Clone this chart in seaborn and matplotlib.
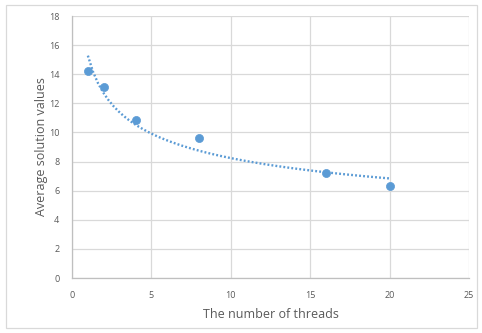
import numpy as np
import pandas as pd
import seaborn as sns
import matplotlib.pyplot as plt
from matplotlib.patches import Rectangle

# Measured values
threads = [1, 2, 4, 8, 16, 20]
avg_solution = [14.2, 13.15, 10.85, 9.65, 7.2, 6.3]

x_ticks = [0, 5, 10, 15, 20, 25]
y_ticks = [0, 2, 4, 6, 8, 10, 12, 14, 16, 18]

BLUE = "#5B9BD5"
GRID = "#D9D9D9"
TEXT = "#595959"


def power_trend(x, y, n=60):
    """Power-law trendline (y = a * x^b) fitted in log-log space, like Excel."""
    b, log_a = np.polyfit(np.log(x), np.log(y), 1)
    xs = np.linspace(min(x), max(x), n)
    return pd.DataFrame({"x": xs, "y": np.exp(log_a) * xs ** b})


def main():
    sns.set_style("white")
    plt.rcParams["font.family"] = ["Open Sans", "DejaVu Sans"]

    df = pd.DataFrame({"threads": threads, "avg": avg_solution})
    trend = power_trend(threads, avg_solution)

    fig = plt.figure(figsize=(4.82, 3.33), dpi=100)
    ax = fig.add_axes([72 / 482, 1 - 278 / 333, (469 - 72) / 482, (278 - 16) / 333])

    sns.lineplot(data=trend, x="x", y="y", ax=ax, color=BLUE, linewidth=1.7,
                 linestyle=(0, (0.8, 0.9)), zorder=3)
    sns.scatterplot(data=df, x="threads", y="avg", ax=ax, color=BLUE, s=34,
                    edgecolor=BLUE, linewidth=0.5, zorder=4)

    ax.set_xlim(0, 25)
    ax.set_ylim(0, 18)
    ax.set_xticks(x_ticks)
    ax.set_yticks(y_ticks)
    ax.grid(True, color=GRID, linewidth=0.9)
    ax.set_axisbelow(True)
    for side in ["top", "right"]:
        ax.spines[side].set_visible(False)
    for side in ["left", "bottom"]:
        ax.spines[side].set_color("#BFBFBF")
        ax.spines[side].set_linewidth(0.9)
    ax.tick_params(length=0, labelsize=6.5, labelcolor=TEXT, pad=9)

    ax.set_xlabel("The number of threads", fontsize=9, color=TEXT, labelpad=6)
    ax.set_ylabel("Average solution values", fontsize=9, color=TEXT, labelpad=1)

    # light chart-area border
    fig.patches.append(Rectangle((6 / 482, 5 / 333), 471 / 482, 323 / 333,
                                 transform=fig.transFigure, fill=False,
                                 edgecolor=GRID, linewidth=0.9))

    fig.savefig("out.png", dpi=100)


if __name__ == "__main__":
    main()
